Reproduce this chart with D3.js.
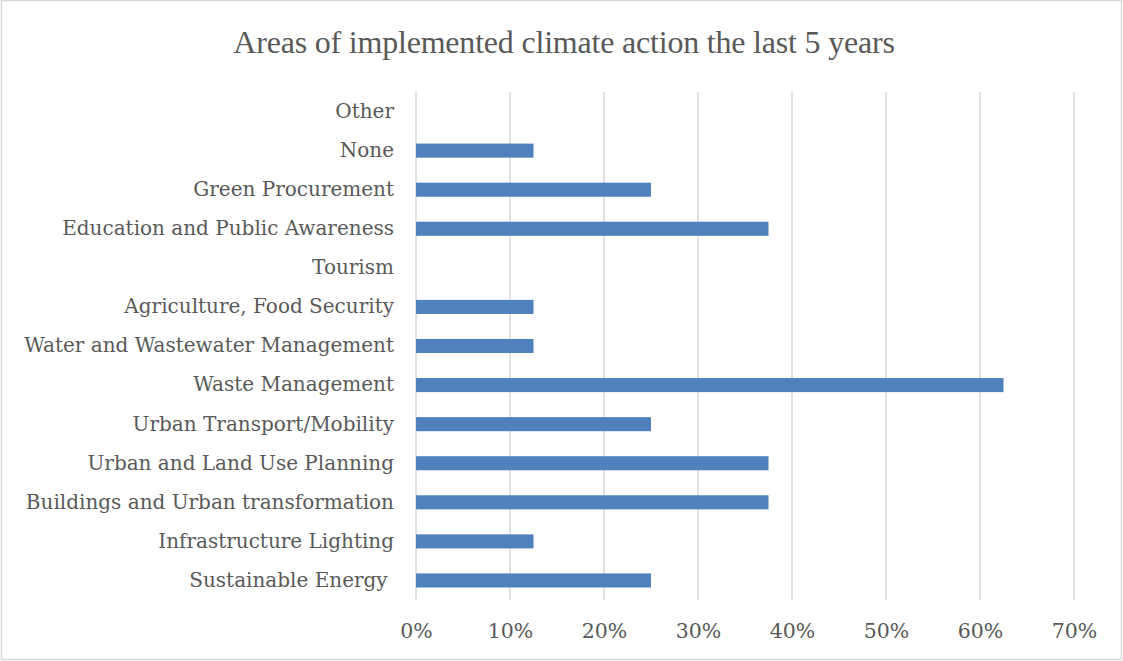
<!DOCTYPE html>
<html>
<head>
<meta charset="utf-8">
<script src="https://cdn.jsdelivr.net/npm/d3@7"></script>
<style>
  body { margin: 0; background: #fff; }
</style>
</head>
<body>
<div id="chart"></div>
<script>
const categories = [
  'Other', 'None', 'Green Procurement', 'Education and Public Awareness', 'Tourism',
  'Agriculture, Food Security', 'Water and Wastewater Management', 'Waste Management',
  'Urban Transport/Mobility', 'Urban and Land Use Planning',
  'Buildings and Urban transformation', 'Infrastructure Lighting', 'Sustainable Energy '
];
const values = [0, 0.125, 0.25, 0.375, 0, 0.125, 0.125, 0.625, 0.25, 0.375, 0.375, 0.125, 0.25];
const xTicks = [0, 0.1, 0.2, 0.3, 0.4, 0.5, 0.6, 0.7];
const title = 'Areas of implemented climate action the last 5 years';

const width = 1123, height = 661;
const margin = { top: 92, right: 49, bottom: 61, left: 416 };

const svg = d3.select('#chart').append('svg')
  .attr('width', width)
  .attr('height', height);

svg.append('rect')
  .attr('x', 1.5).attr('y', 0.5)
  .attr('width', width - 3).attr('height', height - 2)
  .attr('fill', '#fff')
  .attr('stroke', '#d9d9d9')
  .attr('stroke-width', 1.5);

const x = d3.scaleLinear()
  .domain([0, 0.7])
  .range([margin.left, width - margin.right]);

const y = d3.scaleBand()
  .domain(categories)
  .range([margin.top, height - margin.bottom])
  .paddingInner(0.64)
  .paddingOuter(0.32);

// gridlines
svg.append('g')
  .selectAll('line')
  .data(xTicks)
  .enter().append('line')
  .attr('x1', d => x(d)).attr('x2', d => x(d))
  .attr('y1', margin.top).attr('y2', height - margin.bottom)
  .attr('stroke', '#d9d9d9')
  .attr('stroke-width', 1.5);

// x axis labels
svg.append('g')
  .attr('transform', `translate(0,${height - margin.bottom})`)
  .call(d3.axisBottom(x).tickValues(xTicks).tickFormat(d3.format('.0%')).tickSize(0).tickPadding(23))
  .call(g => g.select('.domain').remove())
  .call(g => g.selectAll('text')
    .attr('fill', '#595959')
    .attr('font-family', 'DejaVu Serif')
    .attr('font-size', 20.5));

// y axis labels
svg.append('g')
  .attr('transform', `translate(${margin.left},0)`)
  .call(d3.axisLeft(y).tickSize(0).tickPadding(22))
  .call(g => g.select('.domain').remove())
  .call(g => g.selectAll('text')
    .attr('fill', '#595959')
    .attr('font-family', 'DejaVu Serif')
    .attr('font-size', 20)
    .style('white-space', 'pre'));

// bars
svg.append('g')
  .selectAll('rect')
  .data(values)
  .enter().append('rect')
  .attr('x', x(0))
  .attr('y', (d, i) => y(categories[i]))
  .attr('width', d => x(d) - x(0))
  .attr('height', y.bandwidth())
  .attr('fill', '#4f81bd');

svg.append('text')
  .attr('x', 564)
  .attr('y', 53)
  .attr('text-anchor', 'middle')
  .attr('fill', '#595959')
  .attr('font-family', 'Liberation Serif')
  .attr('font-size', 32)
  .attr('letter-spacing', -0.2)
  .text(title);
</script>
</body>
</html>
